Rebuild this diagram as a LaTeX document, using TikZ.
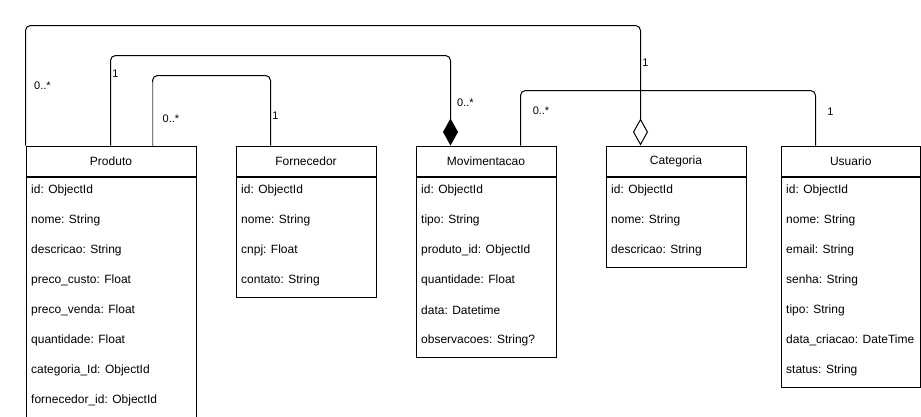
\documentclass[tikz,border=0pt]{standalone}
\usepackage{fontspec}
\setmainfont{Liberation Sans}
\usetikzlibrary{arrows.meta}
\begin{document}
\begin{tikzpicture}[x=1pt,y=-1pt,
  every node/.style={font=\fontsize{12}{14}\selectfont},
  classhead/.style={draw, line width=1pt, minimum height=30pt, inner sep=0pt, anchor=north west},
  classbody/.style={draw, line width=1pt, inner sep=0pt, anchor=north west},
  field/.style={anchor=west, inner sep=0pt},
  mult/.style={inner sep=0pt, font=\fontsize{11}{13}\selectfont},
  assoc/.style={line width=1pt, rounded corners=5pt},
  comp/.style={assoc, -{Diamond[length=27pt,width=15pt]}},
  aggr/.style={assoc, -{Diamond[open,length=27pt,width=15pt,line width=1pt]}}
]
\useasboundingbox (0,0) rectangle (921,416);
\fill[white] (0,0) rectangle (921,416);

% Produto
\node[classhead, minimum width=170pt] (produto) at (25.5,145.5) {Produto};
\node[classbody, minimum width=170pt, minimum height=240pt] (produtobody) at (produto.south west) {};
\node[field] (p1) at (31,190) {id: ObjectId};
\node[field] (p2) at (31,220) {nome: String};
\node[field] (p3) at (31,250) {descricao: String};
\node[field] (p4) at (31,280) {preco\_custo: Float};
\node[field] (p5) at (31,310) {preco\_venda: Float};
\node[field] (p6) at (31,340) {quantidade: Float};
\node[field] (p7) at (31,370) {categoria\_Id: ObjectId};
\node[field] (p8) at (31,400) {fornecedor\_id: ObjectId};

% Fornecedor
\node[classhead, minimum width=140pt] (fornecedor) at (235.5,145.5) {Fornecedor};
\node[classbody, minimum width=140pt, minimum height=120pt] (fornecedorbody) at (fornecedor.south west) {};
\node[field] (f1) at (241,190) {id: ObjectId};
\node[field] (f2) at (241,220) {nome: String};
\node[field] (f3) at (241,250) {cnpj: Float};
\node[field] (f4) at (241,280) {contato: String};

% Movimentacao
\node[classhead, minimum width=140pt] (movimentacao) at (415.5,145.5) {Movimentacao};
\node[classbody, minimum width=140pt, minimum height=180pt] (movimentacaobody) at (movimentacao.south west) {};
\node[field] (m1) at (421,190) {id: ObjectId};
\node[field] (m2) at (421,220) {tipo: String};
\node[field] (m3) at (421,250) {produto\_id: ObjectId};
\node[field] (m4) at (421,280) {quantidade: Float};
\node[field] (m5) at (421,310) {data: Datetime};
\node[field] (m6) at (421,340) {observacoes: String?};

% Categoria
\node[classhead, minimum width=140pt] (categoria) at (605.5,145.5) {Categoria};
\node[classbody, minimum width=140pt, minimum height=90pt] (categoriabody) at (categoria.south west) {};
\node[field] (c1) at (611,190) {id: ObjectId};
\node[field] (c2) at (611,220) {nome: String};
\node[field] (c3) at (611,250) {descricao: String};

% Usuario
\node[classhead, minimum width=139.5pt] (usuario) at (780.5,145.5) {Usuario};
\node[classbody, minimum width=139.5pt, minimum height=210pt] (usuariobody) at (usuario.south west) {};
\node[field] (u1) at (786,190) {id: ObjectId};
\node[field] (u2) at (786,220) {nome: String};
\node[field] (u3) at (786,250) {email: String};
\node[field] (u4) at (786,280) {senha: String};
\node[field] (u5) at (786,310) {tipo: String};
\node[field] (u6) at (786,340) {data\_criacao: DateTime};
\node[field] (u7) at (786,370) {status: String};

% Connectors
\draw[aggr] (produto.north west) -- ++(0,-120) -| ([xshift=35pt]categoria.north west);
\draw[comp] ([xshift=85pt]produto.north west) -- ++(0,-90) -| ([xshift=35pt]movimentacao.north west);
\draw[assoc] ([xshift=127pt]produto.north west) -- ++(0,-70) -| ([xshift=35pt]fornecedor.north west);
\draw[gray, line width=1.4pt] ([xshift=127pt]produto.north west) -- ++(0,-64);
\draw[assoc] ([xshift=105pt]movimentacao.north west) -- ++(0,-55) -| ([xshift=35pt]usuario.north west);

% Multiplicities
\node[mult] (l1) at (42.5,86) {0..*};
\node[mult] (l2) at (645.5,63) {1};
\node[mult] (l3) at (115.5,74) {1};
\node[mult] (l4) at (465.5,103) {0..*};
\node[mult] (l5) at (171,119) {0..*};
\node[mult] (l6) at (275.5,115.5) {1};
\node[mult] (l7) at (541,111) {0..*};
\node[mult] (l8) at (830.5,112) {1};
\end{tikzpicture}
\end{document}
